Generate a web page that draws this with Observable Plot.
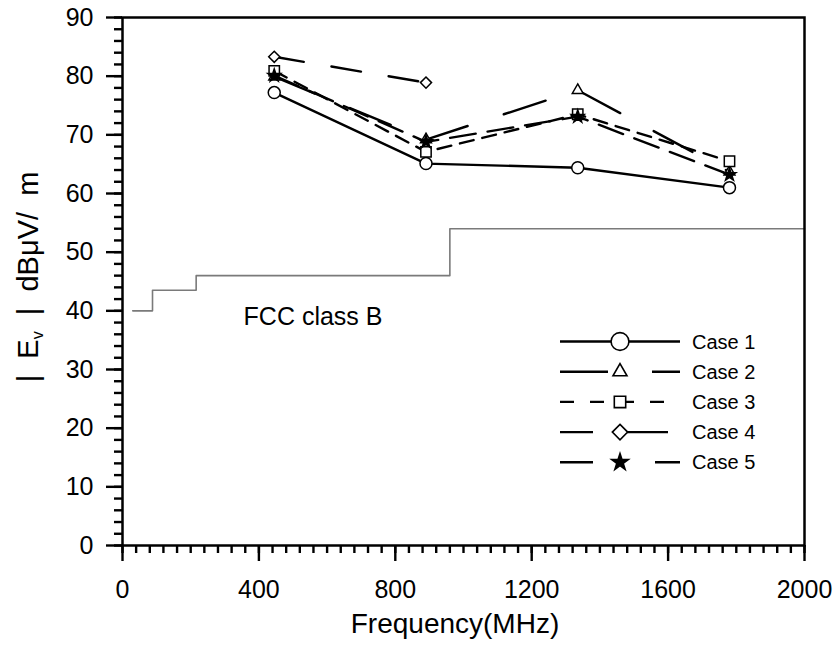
<!DOCTYPE html>
<html>
<head>
<meta charset="utf-8">
<script src="https://cdn.jsdelivr.net/npm/d3@7"></script>
<script src="https://cdn.jsdelivr.net/npm/@observablehq/plot@0.6"></script>
<style>
  html, body { margin: 0; padding: 0; background: #fff; }
  #chart svg { display: block; }
</style>
</head>
<body>
<div id="chart"></div>
<script>
// ---- data ----
const freq = [445, 890, 1335, 1780];
const case1 = [77.2, 65.1, 64.4, 61.0];
const case2 = [79.9, 69.2, 77.6, 63.7];
const case3 = [80.9, 67.1, 73.5, 65.5];
const case4 = [83.3, 78.9];
const case5 = [80.1, 68.8, 73.1, 63.2];
const caseNames = ["Case 1", "Case 2", "Case 3", "Case 4", "Case 5"];
const fccFreq = [30, 88, 216, 960, 2000];
const fccLevel = [40, 43.5, 46, 54, 54];
const fccLabel = "FCC class B";
const xTicks = [0, 400, 800, 1200, 1600, 2000];
const yTicks = [0, 10, 20, 30, 40, 50, 60, 70, 80, 90];

// ---- styles ----
const styles = [
  {symbol: "circle", r: 6, fill: "white", dash: null, legendDash: null, legendSize: 250},
  {symbol: "triangle2", r: 5.2, fill: "white", dash: "44,38", legendDash: "48,44,30", legendSize: 140},
  {symbol: "square2", r: 6.6, fill: "white", dash: "14,9", legendDash: "14,16", legendSize: 165},
  {symbol: "diamond2", r: 5, fill: "white", dash: "30,28", legendDash: "33,20,55,100", legendSize: 150},
  {symbol: "star", r: 4, fill: "black", dash: "26,12", legendDash: "33,62,30", legendSize: 85}
];
const symbolTypes = {
  circle: d3.symbolCircle, triangle2: d3.symbolTriangle2, square2: d3.symbolSquare2,
  diamond2: d3.symbolDiamond2, star: d3.symbolStar
};
const seriesValues = [case1, case2, case3, case4, case5];
const series = caseNames.map((name, i) => ({
  name,
  rows: seriesValues[i].map((v, j) => ({freq: freq[j], value: v})),
  ...styles[i]
}));
const fcc = fccFreq.map((f, i) => ({freq: f, value: fccLevel[i]}));

const font = "'Liberation Sans', Arial, sans-serif";

const plot = Plot.plot({
  width: 838,
  height: 647,
  marginTop: 17,
  marginBottom: 102,
  marginLeft: 122,
  marginRight: 34,
  style: {fontFamily: font, background: "white", color: "black"},
  x: {domain: [0, 2000]},
  y: {domain: [0, 90]},
  marks: [
    Plot.line(fcc, {x: "freq", y: "value", curve: "step-after", stroke: "#7a7a7a", strokeWidth: 1.6}),
    ...series.flatMap(s => [
      Plot.line(s.rows, {x: "freq", y: "value", stroke: "black", strokeWidth: 2.4, strokeDasharray: s.dash}),
      Plot.dot(s.rows, {x: "freq", y: "value", symbol: s.symbol, r: s.r, stroke: "black", strokeWidth: 1.5, fill: s.fill})
    ]),
    Plot.text([fccLabel], {x: 355, y: 39, text: d => d, textAnchor: "start", fontSize: 25, fill: "black"}),
    Plot.axisX({ticks: d3.range(0, 2001, 40), tickSize: 8, text: null, label: null, strokeWidth: 2.4}),
    Plot.axisX({ticks: xTicks, tickSize: 16, tickPadding: 19, tickFormat: d3.format("d"), fontSize: 25, label: null, strokeWidth: 2.4}),
    Plot.axisY({ticks: d3.range(0, 91, 2), tickSize: 8, text: null, label: null, strokeWidth: 2.4}),
    Plot.axisY({ticks: yTicks, tickSize: 16, tickPadding: 13, tickFormat: d3.format("d"), fontSize: 25, label: null, strokeWidth: 2.4}),
    Plot.frame({stroke: "black", strokeWidth: 2.5})
  ]
});

document.getElementById("chart").appendChild(plot);

// ---- axis titles & legend ----
const svg = d3.select(plot);

svg.append("text")
  .attr("x", 455).attr("y", 633)
  .attr("text-anchor", "middle")
  .attr("font-family", font).attr("font-size", 28).attr("fill", "black")
  .text("Frequency(MHz)");

const yl = svg.append("text")
  .attr("transform", "rotate(-90)")
  .attr("x", -277).attr("y", 38)
  .attr("text-anchor", "middle")
  .style("white-space", "pre")
  .attr("font-family", font).attr("font-size", 29).attr("fill", "black");
yl.append("tspan").text("|  E");
yl.append("tspan").attr("font-size", 16).attr("dy", 5).text("v");
yl.append("tspan").attr("dy", -5).text("  |  dBμV/  m");

const lg = svg.append("g").attr("font-family", font);
series.forEach((s, i) => {
  const y = 341.5 + i * 30.2;
  lg.append("line")
    .attr("x1", 560).attr("x2", 680).attr("y1", y).attr("y2", y)
    .attr("stroke", "black").attr("stroke-width", 2.4)
    .attr("stroke-dasharray", s.legendDash);
  lg.append("path")
    .attr("transform", `translate(620,${y})`)
    .attr("d", d3.symbol().type(symbolTypes[s.symbol]).size(s.legendSize)())
    .attr("fill", s.fill).attr("stroke", "black").attr("stroke-width", 1.6);
  lg.append("text")
    .attr("x", 692).attr("y", y).attr("dy", "0.35em")
    .attr("text-anchor", "start")
    .attr("font-size", 20).attr("fill", "black")
    .text(s.name);
});
</script>
</body>
</html>
